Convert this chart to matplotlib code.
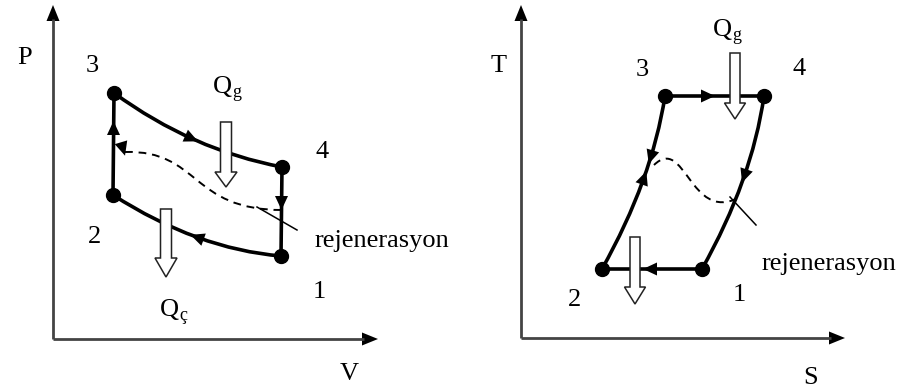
import matplotlib
matplotlib.use("Agg")
import matplotlib.pyplot as plt
from matplotlib.path import Path
from matplotlib.patches import PathPatch, Polygon
import numpy as np

W, H = 904, 389
FONT = "Liberation Serif"

# ---------------- geometry (pixel coordinates, y downward) ----------------
# Left panel: P-V diagram
pv_axis_origin = (53, 339)
pv_axis_top = 5
pv_axis_right = 378
pv_points = {"1": (281, 256), "2": (113, 195), "3": (114, 93), "4": (282, 167)}
pv_curve_34_ctrl = (192, 150)
pv_curve_21_ctrl = (197, 249)
pv_dashed = [(125, 152), (200, 150), (190, 210), (282, 210)]
pv_pointer = [(257, 207), (297, 230)]
pv_labels = [("P", 17, 64), ("3", 86, 72), ("4", 316, 158), ("2", 88, 243),
             ("1", 313, 298), ("V", 340, 380)]
pv_rejen = (315, 247)
pv_Qg = (213, 93)
pv_Qc = (160, 316)
pv_heat_in = (226, 122, 172, 187)    # x_center, shaft top, head start, tip
pv_heat_out = (166, 209, 258, 277)

# Right panel: T-S diagram
ts_axis_origin = (521, 338)
ts_axis_top = 5
ts_axis_right = 845
ts_points = {"1": (702, 269), "2": (602, 269), "3": (665, 96), "4": (764, 96)}
ts_curve_23_ctrl = (652, 180)
ts_curve_41_ctrl = (752, 180)
ts_dashed = [(654, 165), (685, 135), (690, 222), (738, 198)]
ts_pointer = [(730, 197), (756, 225)]
ts_labels = [("T", 491, 72), ("3", 636, 76), ("4", 793, 75), ("2", 568, 306),
             ("1", 733, 301), ("S", 803, 384)]
ts_rejen = (762, 270)
ts_Qg = (713, 36)
ts_heat_in = (735, 53, 103, 119)
ts_heat_out = (635, 237, 287, 304)

fig = plt.figure(figsize=(W / 100, H / 100), dpi=100)
ax = fig.add_axes([0, 0, 1, 1])
ax.set_xlim(0, W)
ax.set_ylim(H, 0)
ax.axis("off")

LW = 2.6


def axes_arrows(origin, top, right):
    ox, oy = origin
    ax.plot([ox, ox], [oy, top + 14], color="#444444", lw=2.0, solid_capstyle="butt")
    ax.plot([ox, right - 14], [oy, oy], color="#444444", lw=2.0, solid_capstyle="butt")
    ax.add_patch(Polygon([(ox - 6.5, top + 16), (ox + 6.5, top + 16), (ox, top)],
                         closed=True, color="black", lw=0))
    ax.add_patch(Polygon([(right - 16, oy - 6.5), (right - 16, oy + 6.5), (right, oy)],
                         closed=True, color="black", lw=0))


def quad(p0, c, p1, **kw):
    path = Path([p0, c, p1], [Path.MOVETO, Path.CURVE3, Path.CURVE3])
    ax.add_patch(PathPatch(path, fill=False, **kw))


def cubic(pts, **kw):
    path = Path(pts, [Path.MOVETO, Path.CURVE4, Path.CURVE4, Path.CURVE4])
    ax.add_patch(PathPatch(path, fill=False, **kw))


def quad_eval(p0, c, p1, t):
    p0, c, p1 = map(np.array, (p0, c, p1))
    pt = (1 - t) ** 2 * p0 + 2 * (1 - t) * t * c + t ** 2 * p1
    d = 2 * (1 - t) * (c - p0) + 2 * t * (p1 - c)
    return pt, d / np.hypot(*d)


def head(pt, d, size=14, width=6.5):
    pt = np.array(pt, float)
    d = np.array(d, float)
    d = d / np.hypot(*d)
    n = np.array([-d[1], d[0]])
    tip = pt + d * size / 2
    base = pt - d * size / 2
    ax.add_patch(Polygon([tip, base + n * width, base - n * width],
                         closed=True, color="black", lw=0, zorder=5))


def hollow(spec, shaft_w=11, head_w=22):
    xc, top, hs, tip = spec
    pts = [(xc - shaft_w / 2, top), (xc + shaft_w / 2, top), (xc + shaft_w / 2, hs),
           (xc + head_w / 2, hs), (xc, tip), (xc - head_w / 2, hs), (xc - shaft_w / 2, hs)]
    ax.add_patch(Polygon(pts, closed=True, facecolor="white", edgecolor="#222222",
                         lw=1.1, zorder=6))


def dot(p):
    ax.plot(*p, "o", color="black", ms=10, zorder=7)


def txt(s, x, y, size=19, **kw):
    ax.text(x, y, s, fontsize=size, family=FONT, va="baseline", ha="left", **kw)


def Q(sub, x, y):
    txt("Q", x, y, size=19)
    txt(sub, x + 19, y + 4, size=13)


# ---------------- left panel ----------------
axes_arrows(pv_axis_origin, pv_axis_top, pv_axis_right)
p = pv_points
quad(p["3"], pv_curve_34_ctrl, p["4"], lw=LW, color="black")
quad(p["2"], pv_curve_21_ctrl, p["1"], lw=LW, color="black")
ax.plot([p["2"][0], p["3"][0]], [p["2"][1], p["3"][1]], color="black", lw=LW)
ax.plot([p["4"][0], p["1"][0]], [p["4"][1], p["1"][1]], color="black", lw=LW)
cubic(pv_dashed, lw=1.4, color="black", linestyle=(0, (4, 3)))
ax.plot(*zip(*pv_pointer), color="black", lw=1.1)
pt, d = quad_eval(p["3"], pv_curve_34_ctrl, p["4"], 0.48)
head(pt, d)
pt, d = quad_eval(p["2"], pv_curve_21_ctrl, p["1"], 0.5)
head(pt, -d)
head((113.5, 128), (0, -1))
head((281.5, 203), (0, 1))
head((123, 149), (0.3, 1))
hollow(pv_heat_in)
hollow(pv_heat_out)
for k in p:
    dot(p[k])
for s, x, y in pv_labels:
    txt(s, x, y)
txt("rejenerasyon", *pv_rejen)
Q("g", *pv_Qg)
Q("ç", *pv_Qc)

# ---------------- right panel ----------------
axes_arrows(ts_axis_origin, ts_axis_top, ts_axis_right)
p = ts_points
ax.plot([p["3"][0], p["4"][0]], [p["3"][1], p["4"][1]], color="black", lw=LW)
ax.plot([p["1"][0], p["2"][0]], [p["1"][1], p["2"][1]], color="black", lw=LW)
quad(p["2"], ts_curve_23_ctrl, p["3"], lw=LW, color="black")
quad(p["4"], ts_curve_41_ctrl, p["1"], lw=LW, color="black")
cubic(ts_dashed, lw=1.4, color="black", linestyle=(0, (4, 3)))
ax.plot(*zip(*ts_pointer), color="black", lw=1.1)
head((708, 96), (1, 0))
head((650, 269), (-1, 0))
pt, d = quad_eval(p["2"], ts_curve_23_ctrl, p["3"], 0.52)
head(pt, d)
pt, d = quad_eval(p["2"], ts_curve_23_ctrl, p["3"], 0.64)
head(pt, -d)
pt, d = quad_eval(p["4"], ts_curve_41_ctrl, p["1"], 0.47)
head(pt, d)
hollow(ts_heat_in, shaft_w=10, head_w=21)
hollow(ts_heat_out, shaft_w=10, head_w=21)
for k in p:
    dot(p[k])
for s, x, y in ts_labels:
    txt(s, x, y)
txt("rejenerasyon", *ts_rejen)
Q("g", *ts_Qg)

fig.savefig("out.png", dpi=100, facecolor="white")
